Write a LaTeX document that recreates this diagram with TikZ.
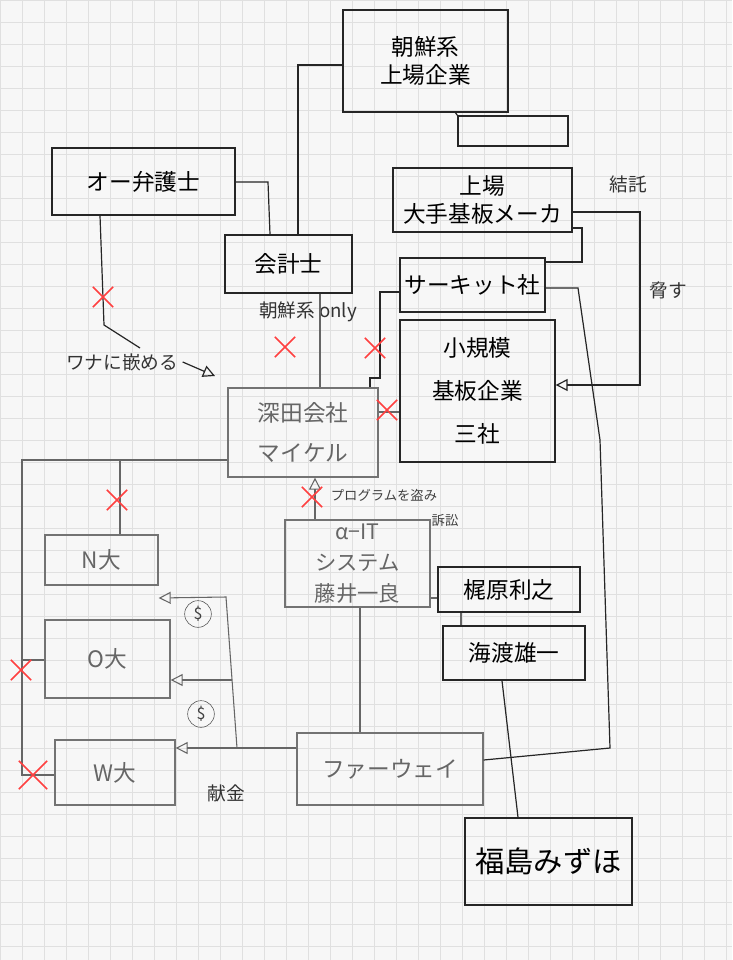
\documentclass[tikz,border=0pt]{standalone}
\usepackage{fontspec}
\setmainfont{Noto Sans CJK JP}
\usetikzlibrary{fit,shapes.misc,arrows.meta}
\tikzset{
 box/.style={draw=black!85,line width=1pt,inner sep=0pt},
 pbox/.style={box,draw=black!55},
 txt/.style={align=center,font=\fontsize{17}{21}\selectfont},
 ptxt/.style={txt,text=black!60},
 con/.style={draw=black!85,line width=0.9pt},
 pcon/.style={draw=black!60,line width=0.8pt},
 tri/.style={-{Triangle[open,length=9pt,width=9pt]}},
 redx/.style={cross out,draw=red!75,line width=1.2pt,minimum size=14pt,inner sep=0pt},
 lab/.style={font=\fontsize{14}{17}\selectfont,text=black!80},
 small/.style={font=\fontsize{10}{12}\selectfont,text=black!75},
 dollar/.style={draw=black!70,circle,minimum size=20pt,inner sep=0pt,font=\fontsize{12}{12}\selectfont,text=black!75},
}
\begin{document}
\begin{tikzpicture}[x=0.75pt,y=-0.75pt]
\fill[black!3] (0,0) rectangle (732,960);
\useasboundingbox (0,0) rectangle (732,960);
\foreach \i in {0,22,...,732} \draw[black!12,line width=0.4pt] (\i,0)--(\i,960);
\foreach \j in {0,22,...,960} \draw[black!12,line width=0.4pt] (0,\j)--(732,\j);
% boxes
\node[box,fit={(343,10)(508,112)}] (kigyo) {};
\node[txt] (tkigyo) at (kigyo.center) {朝鮮系\\上場企業};
\node[box,fit={(458,116)(568,146)}] (tab) {};
\node[box,fit={(52,148)(235,215)}] (bengo) {};
\node[txt] (tbengo) at (bengo.center) {オー弁護士};
\node[box,fit={(225,235)(352,293)}] (kaikei) {};
\node[txt] (tkaikei) at (kaikei.center) {会計士};
\node[box,fit={(393,168)(572,232)}] (ote) {};
\node[txt] (tote) at (ote.center) {上場\\大手基板メーカ};
\node[box,fit={(400,258)(545,312)}] (circuit) {};
\node[txt] (tcircuit) at (circuit.center) {サーキット社};
\node[box,fit={(400,320)(555,462)}] (shokibo) {};
\node[txt,font=\fontsize{17}{32}\selectfont] (tshokibo) at (shokibo.center) {小規模\\基板企業\\三社};
\node[pbox,fit={(228,388)(378,477)}] (fukada) {};
\node[ptxt,font=\fontsize{17}{30}\selectfont] (tfukada) at (fukada.center) {深田会社\\マイケル};
\node[pbox,fit={(285,520)(430,607)}] (alpha) {};
\node[ptxt,font=\fontsize{16}{23}\selectfont] (talpha) at (alpha.center) {α−IT\\システム\\藤井一良};
\node[box,fit={(438,567)(580,612)}] (kaji) {};
\node[txt] (tkaji) at (kaji.center) {梶原利之};
\node[box,fit={(443,626)(585,680)}] (kaito) {};
\node[txt] (tkaito) at (kaito.center) {海渡雄一};
\node[box,fit={(465,818)(632,905)}] (mizuho) {};
\node[txt,font=\fontsize{22}{26}\selectfont] (tmizuho) at (mizuho.center) {福島みずほ};
\node[pbox,fit={(45,535)(158,585)}] (N) {};
\node[ptxt] (tN) at (N.center) {N大};
\node[pbox,fit={(45,620)(170,698)}] (O) {};
\node[ptxt] (tO) at (O.center) {O大};
\node[pbox,fit={(55,740)(175,805)}] (W) {};
\node[ptxt] (tW) at (W.center) {W大};
\node[pbox,fit={(297,733)(483,805)}] (huawei) {};
\node[ptxt] (thuawei) at (huawei.center) {ファーウェイ};
% labels
\node[lab] (ketsu) at (628,184) {結託};
\node[lab] (odosu) at (668,290) {脅す};
\node[lab] (only) at (308,312) {朝鮮系 only};
\node[lab] (wana) at (122,362) {ワナに嵌める};
\node[small] (pro) at (384,495) {プログラムを盗み};
\node[small] (sosho) at (445,520) {訴訟};
\node[lab] (kenkin) at (226,793) {献金};
\node[dollar] (d1) at (198,614) {\$};
\node[dollar] (d2) at (201,714) {\$};
% connectors
\draw[con] (kaikei.north -| 298,0) -- (298,65) -- (kigyo.west |- 0,65);
\draw[con] (455,112) -- (tab.north west);
\draw[con] (bengo.east |- 0,182) -- (268,182) -- (kaikei.north -| 270,0);
\draw[con] (bengo.south -| 100,0) -- (104,325) -- (140,348);
\coordinate (wanatip) at (215,376);
\draw[con,tri] (wana.east) -- (wanatip);
\draw[pcon] (kaikei.south -| 320,0) -- (fukada.north -| 320,0);
\draw[con] (fukada.north -| 370,0) -- (370,378) -- (380,378) -- (380,292) -- (circuit.west |- 0,292);
\draw[pcon] (fukada.east |- 0,412) -- (shokibo.west |- 0,412);
\draw[con] (circuit.east |- 0,262) -- (582,262) -- (582,228) -- (ote.east |- 0,228);
\draw[con,tri] (ote.east |- 0,212) -- (640,212) -- (640,385) -- (shokibo.east |- 0,385);
\draw[con] (circuit.east |- 0,288) -- (578,288) -- (600,440) -- (610,748) -- (huawei.east |- 0,760);
\draw[pcon] (fukada.west |- 0,460) -- (22,460) -- (22,775) -- (W.west |- 0,775);
\draw[pcon] (120,460) -- (N.north -| 120,0);
\draw[pcon] (22,660) -- (O.west |- 0,660);
\draw[pcon,tri] (alpha.north -| 315,0) -- (fukada.south -| 315,0);
\draw[pcon] (alpha.south -| 360,0) -- (huawei.north -| 360,0);
\draw[pcon] (alpha.east |- 0,598) -- (kaji.west |- 0,598);
\draw[pcon] (kaji.south -| 461,0) -- (kaito.north -| 461,0);
\draw[con] (kaito.south -| 502,0) -- (mizuho.north -| 518,0);
\draw[pcon,tri] (huawei.west |- 0,748) -- (237,748) -- (W.east |- 0,748);
\draw[pcon,tri] (237,748) -- (226,597) -- (N.east |- 0,598);
\draw[pcon,tri] (232,680) -- (O.east |- 0,680);
% red crosses
\node[redx] (x1) at (103,297) {};
\node[redx] (x2) at (285,347) {};
\node[redx] (x3) at (375,348) {};
\node[redx] (x4) at (387,410) {};
\node[redx] (x5) at (117,500) {};
\node[redx] (x6) at (312,497) {};
\node[redx] (x7) at (21,670) {};
\node[redx,minimum size=20pt] (x8) at (33,775) {};
\end{tikzpicture}
\end{document}
